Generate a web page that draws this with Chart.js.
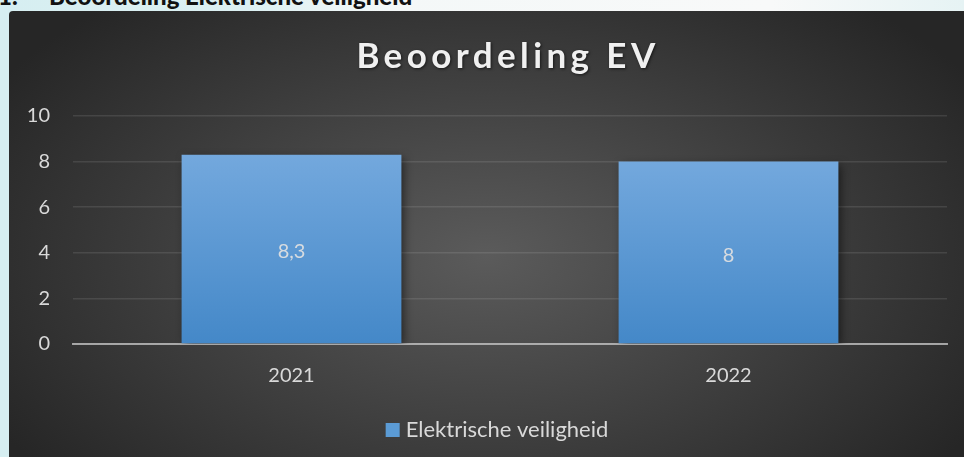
<!DOCTYPE html>
<html>
<head>
<meta charset="utf-8">
<script src="https://cdn.jsdelivr.net/npm/chart.js@4"></script>
<style>
  html, body { margin: 0; padding: 0; }
  body {
    width: 964px; height: 457px; overflow: hidden; position: relative;
    background: linear-gradient(90deg, #d6eef1 0%, #dcf0f2 26%, #f4f8f8 40%, #f8f9f9 80%, #e6f3f4 100%);
  }
  .hd {
    position: absolute; top: -19px;
    font: 900 24px Lato, "Liberation Sans", sans-serif; color: #111; white-space: pre;
  }
  #box {
    position: absolute; left: 9px; top: 11px; width: 955px; height: 446px;
    border-top-left-radius: 4px;
    background: radial-gradient(ellipse 60% 75% at 50% 55%, #5b5b5b 0%, #3e3e3e 55%, #262626 100%);
    overflow: hidden;
  }
  canvas { display: block; }
</style>
</head>
<body>
<div class="hd" style="left:-2px">1.</div>
<div class="hd" style="left:49px">Beoordeling Elektrische veiligheid</div>
<div id="box"><canvas id="c" width="955" height="446"></canvas></div>
<script>
const chartTitle = "Beoordeling EV";
const categories = ["2021", "2022"];
const seriesName = "Elektrische veiligheid";
const seriesValues = [8.3, 8];
const yTicks = [0, 2, 4, 6, 8, 10];

const textColor = "#d9d9d9";
const seriesColor = "#5b9bd5";
const font = 'Lato, "Open Sans", sans-serif';

function barGradient(context) {
  const chart = context.chart;
  const area = chart.chartArea;
  if (!area) return seriesColor;
  const y = chart.scales.y;
  const v = context.raw;
  const top = y.getPixelForValue(v);
  const bot = y.getPixelForValue(0);
  const g = chart.ctx.createLinearGradient(0, top, 0, bot);
  g.addColorStop(0, "#73a8dd");
  g.addColorStop(1, "#4488c8");
  return g;
}

const titleLegendPlugin = {
  id: "customTitleLegend",
  afterDraw(chart) {
    const ctx = chart.ctx;
    // title
    ctx.save();
    ctx.font = "bold 35px " + font;
    ctx.fillStyle = "#f0f0f0";
    ctx.textAlign = "center";
    ctx.textBaseline = "alphabetic";
    ctx.shadowColor = "rgba(0,0,0,0.6)";
    ctx.shadowBlur = 3;
    ctx.shadowOffsetX = 1;
    ctx.shadowOffsetY = 1;
    try { ctx.letterSpacing = "4.4px"; } catch (e) {}
    ctx.fillText(chartTitle, 499, 57);
    ctx.restore();
    // legend
    ctx.save();
    ctx.font = "22px " + font;
    const tw = ctx.measureText(seriesName).width;
    const total = 14 + 6 + tw;
    const x0 = 488 - total / 2;
    const yMid = 419;
    ctx.fillStyle = seriesColor;
    ctx.fillRect(x0, yMid - 7, 14, 14);
    ctx.fillStyle = textColor;
    ctx.textAlign = "left";
    ctx.textBaseline = "middle";
    ctx.fillText(seriesName, x0 + 20, yMid);
    ctx.restore();
  }
};

const shadowPlugin = {
  id: "barShadow",
  beforeDatasetsDraw(chart) {
    const ctx = chart.ctx;
    ctx.save();
    ctx.shadowColor = "rgba(0,0,0,0.55)";
    ctx.shadowBlur = 9;
    ctx.shadowOffsetX = 3;
    ctx.shadowOffsetY = 3;
  },
  afterDatasetsDraw(chart) {
    chart.ctx.restore();
    const ctx = chart.ctx;
    const meta = chart.getDatasetMeta(0);
    ctx.save();
    ctx.font = "20px " + font;
    ctx.fillStyle = "rgba(225,225,225,0.92)";
    ctx.textAlign = "center";
    ctx.textBaseline = "middle";
    meta.data.forEach((bar, i) => {
      const v = seriesValues[i];
      const txt = String(v).replace(".", ",");
      ctx.fillText(txt, bar.x, (bar.y + bar.base) / 2 + 3);
    });
    ctx.restore();
  }
};

new Chart(document.getElementById("c"), {
  type: "bar",
  data: {
    labels: categories,
    datasets: [{
      label: seriesName,
      data: seriesValues,
      backgroundColor: barGradient,
      borderWidth: 0,
      barPercentage: 0.503,
      categoryPercentage: 1
    }]
  },
  options: {
    responsive: false,
    animation: false,
    events: [],
    layout: { padding: { top: 105, right: 17, bottom: 48, left: 0 } },
    scales: {
      x: {
        z: 1,
        grid: { display: false, drawTicks: false },
        border: { display: true, color: "rgba(200,200,200,0.75)", width: 2 },
        ticks: { color: textColor, font: { size: 20, family: font }, padding: 20 },
        afterFit(s) { s.height = 65; }
      },
      y: {
        min: 0, max: 10,
        afterBuildTicks(s) { s.ticks = yTicks.map(v => ({ value: v })); },
        grid: { color: "rgba(255,255,255,0.1)", lineWidth: 1.5, drawTicks: false },
        border: { display: false },
        ticks: { color: textColor, font: { size: 20, family: font }, padding: 23 },
        afterFit(s) { s.width = 64; }
      }
    },
    plugins: {
      title: { display: false },
      tooltip: { enabled: false },
      legend: { display: false }
    }
  },
  plugins: [titleLegendPlugin, shadowPlugin]
});
</script>
</body>
</html>
